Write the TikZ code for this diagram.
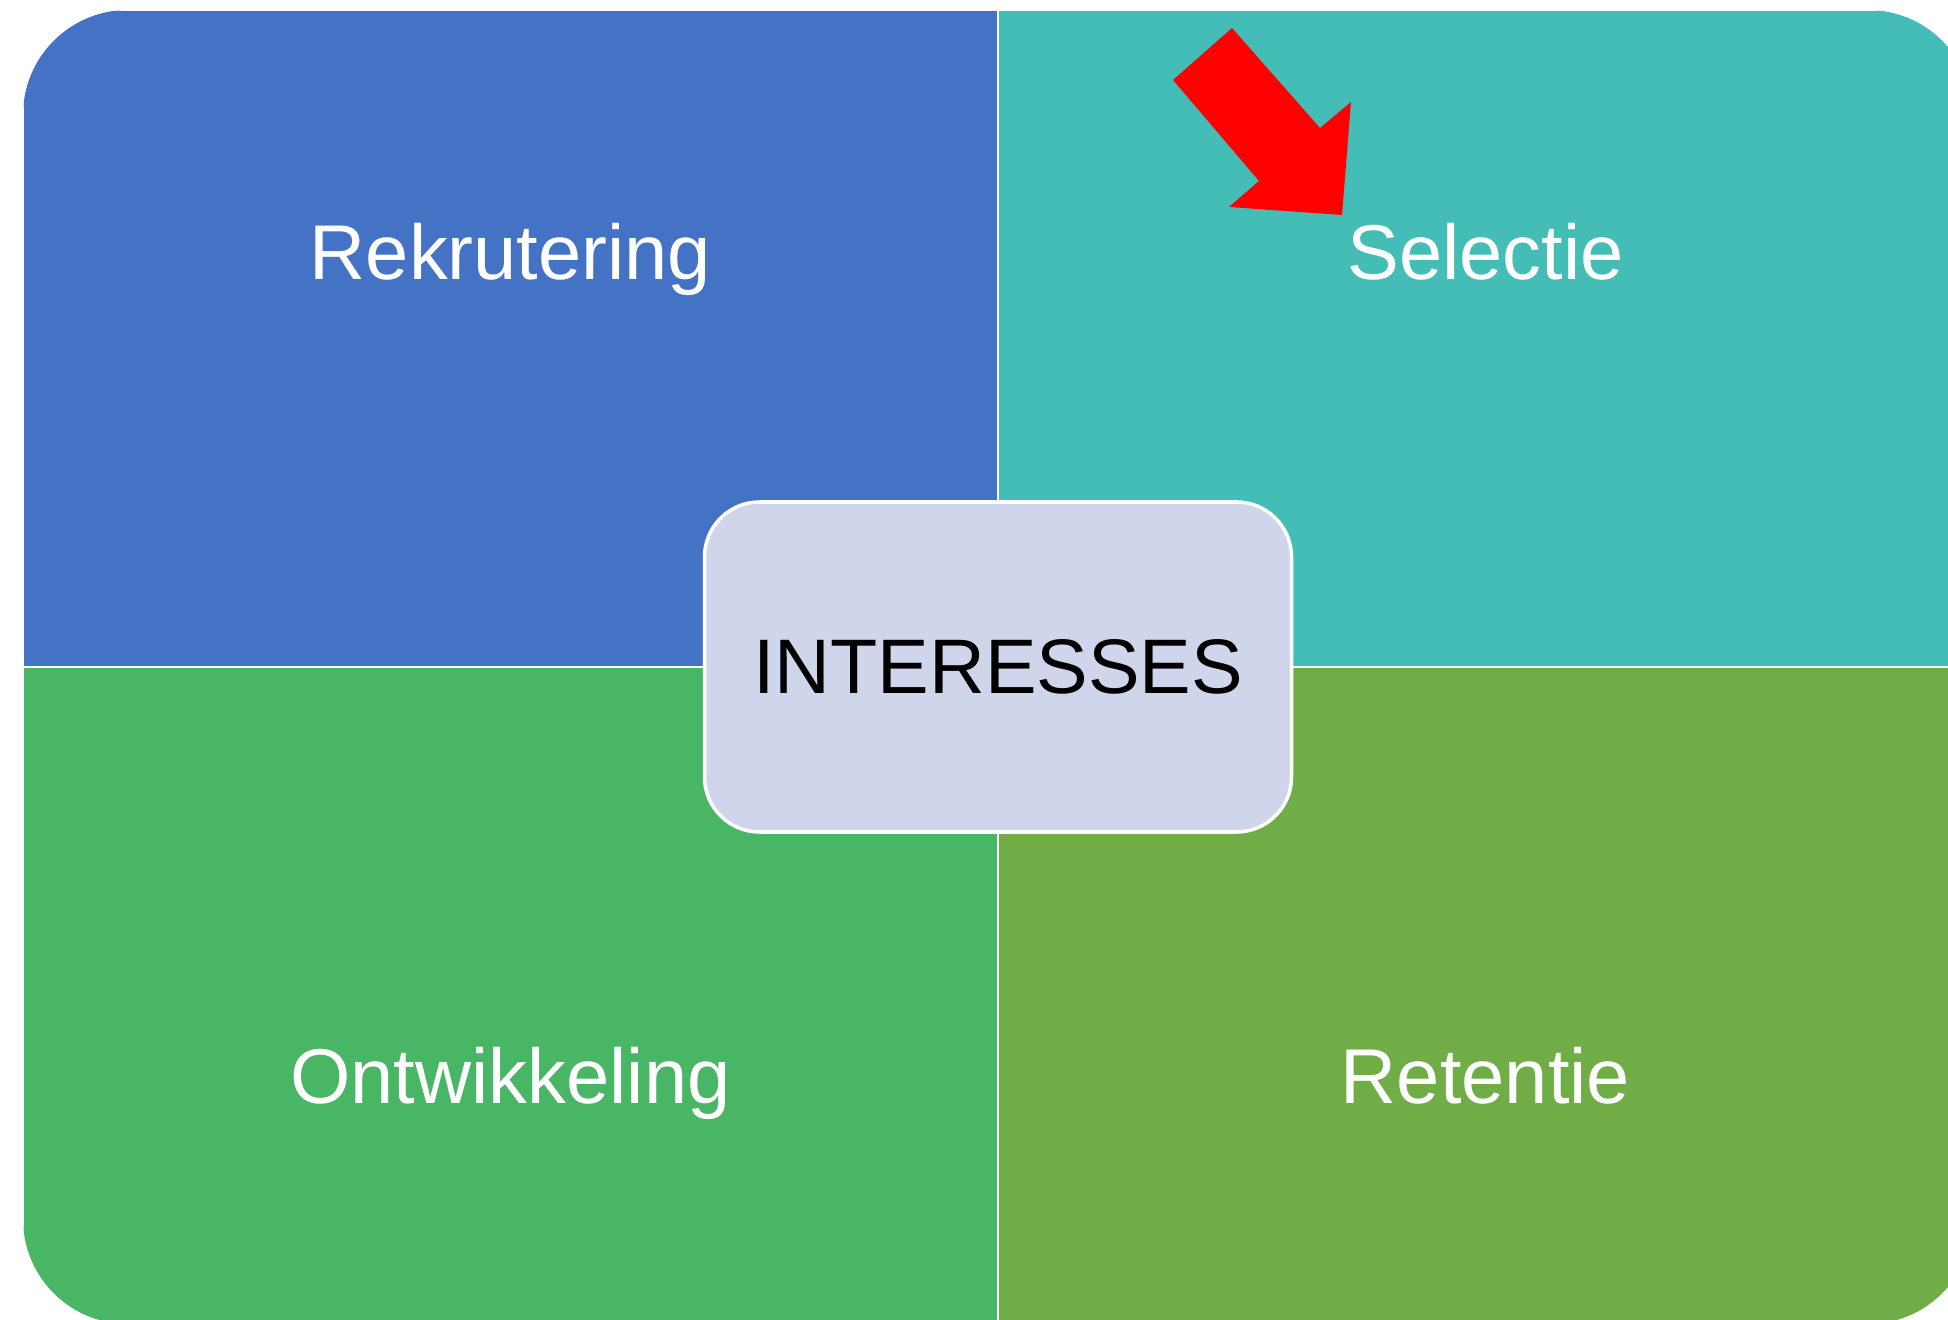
\documentclass[tikz,border=0pt]{standalone}
\usepackage{fontspec}
\setmainfont{Liberation Sans}
\usetikzlibrary{positioning}
\definecolor{qblue}{RGB}{68,114,196}
\definecolor{qteal}{RGB}{69,189,183}
\definecolor{qgreen}{RGB}{72,182,101}
\definecolor{qlime}{RGB}{112,173,71}
\definecolor{qcore}{RGB}{207,213,234}
\begin{document}
\begin{tikzpicture}[
  every node/.style={align=center,outer sep=0pt,},%
  q/.style={rectangle,minimum width=9.75cm,minimum height=6.57cm,inner sep=0pt,%
    draw=white,line width=0.8pt,},%
  bq/.style={fill=qblue,},%
  tq/.style={fill=qteal,},%
  gq/.style={fill=qgreen,},%
  lq/.style={fill=qlime,},%
  lb/.style={anchor=base,text=white,font=\fontsize{22.1}{26}\selectfont,},%
  ce/.style={fill=qcore,draw=white,line width=1pt,rounded corners=0.55cm,%
    minimum width=5.87cm,minimum height=3.30cm,text=black,%
    font=\fontsize{22}{26}\selectfont,},%
  ar/.style={fill=red,},%
  ]
  \useasboundingbox (0,0) rectangle (19.48,-13.2);
  \begin{scope}
    \clip [rounded corners=1.05cm] (0.23,-0.10) rectangle (19.73,-13.24);
    \node (rek) [q,bq] at (5.105,-3.385) {};
    \node (sel) [q,tq,right=0pt of rek] {};
    \node (ont) [q,gq,below=0pt of rek] {};
    \node (ret) [q,lq,right=0pt of ont] {};
  \end{scope}
  \node (rekl) [lb] at ([yshift=5.85mm]rek.center) {Rekrutering};
  \node (sell) [lb] at ([yshift=5.85mm]sel.center) {Selectie};
  \node (ontl) [lb] at ([yshift=-10.75mm]ont.center) {Ontwikkeling};
  \node (retl) [lb] at ([yshift=-10.75mm]ret.center) {Retentie};
  \node (int) [ce] at (rek.south east) {INTERESSES};
  \fill [ar] (11.73,-0.80) -- (12.32,-0.28) -- (13.20,-1.28) -- (13.51,-1.02)
    -- (13.42,-2.15) -- (12.29,-2.07) -- (12.59,-1.81) -- cycle;
\end{tikzpicture}
\end{document}
